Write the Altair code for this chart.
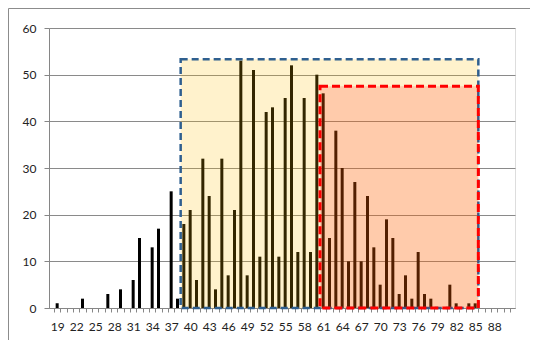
import altair as alt
import pandas as pd

# ---- data ----
ages = list(range(19, 91))
counts = [
    1, 0, 0, 0, 2, 0, 0, 0, 3, 0,      # 19-28
    4, 0, 6, 15, 0, 13, 17, 0, 25, 2,  # 29-38
    18, 21, 6, 32, 24, 4, 32, 7, 21, 53,  # 39-48
    7, 51, 11, 42, 43, 11, 45, 52, 12, 45,  # 49-58
    12, 50, 46, 15, 38, 30, 10, 27, 10, 24,  # 59-68
    13, 5, 19, 15, 3, 7, 2, 12, 3, 2,   # 69-78
    0, 0, 5, 1, 0, 1, 1, 0, 0, 0,       # 79-88
    0, 0,                               # 89-90
]
label_ages = list(range(19, 89, 3))

# highlighted ranges (age bounds, top value)
box_names = ["blue", "red"]
box_start = [38.5, 60.5]
box_end = [85.5, 85.5]
box_top = [53.3, 47.5]

W, H = 466, 280
step = W / len(ages)

df = pd.DataFrame({"age": ages, "count": counts})
boundaries = [a - 0.5 for a in ages] + [ages[-1] + 0.5]

xscale = alt.Scale(domain=[ages[0] - 0.5, ages[-1] + 0.5], nice=False, zero=False)
yscale = alt.Scale(domain=[0, 60], nice=False)

label_list = ",".join(str(v) for v in label_ages)

bars = alt.Chart(df).mark_bar(size=3, color="#000000").encode(
    x=alt.X("age:Q", scale=xscale, title=None,
            axis=alt.Axis(values=boundaries, tickCount=500, grid=False,
                          labelExpr=f"indexof([{label_list}], datum.value + 0.5) >= 0 ? format(datum.value + 0.5, 'd') : ''",
                          labelOffset=step / 2, labelOverlap=False, labelFlush=False,
                          tickSize=4, labelPadding=9, domainColor="#868686",
                          tickColor="#868686", labelFontSize=12, labelFont="Lato",
                          labelColor="#222222")),
    y=alt.Y("count:Q", scale=yscale, title=None,
            axis=alt.Axis(values=[0, 10, 20, 30, 40, 50, 60], grid=True,
                          gridColor="#8a8a8a", tickSize=5, labelPadding=8,
                          domainColor="#868686", tickColor="#868686",
                          labelFontSize=12, labelFont="Lato", labelColor="#222222")),
)

blue_df = pd.DataFrame({"x": [box_start[0]], "x2": [box_end[0]], "y": [0], "y2": [box_top[0]]})
red_df = pd.DataFrame({"x": [box_start[1]], "x2": [box_end[1]], "y": [0], "y2": [box_top[1]]})

blue = alt.Chart(blue_df).mark_rect(
    fill="#FFC000", fillOpacity=0.2, stroke="#2F5F8F", strokeWidth=2.5,
    strokeDash=[7, 4], strokeOpacity=1,
).encode(x=alt.X("x:Q", scale=xscale), x2="x2", y=alt.Y("y:Q", scale=yscale), y2="y2")

red = alt.Chart(red_df).mark_rect(
    fill="#FF0000", fillOpacity=0.16, stroke="#FF0000", strokeWidth=3,
    strokeDash=[8, 4], strokeOpacity=1,
).encode(x=alt.X("x:Q", scale=xscale), x2="x2", y=alt.Y("y:Q", scale=yscale), y2="y2")

one = pd.DataFrame({"k": [0]})
frame_top = alt.Chart(one).mark_rule(color="#8c8c8c", strokeWidth=1).encode(
    x=alt.value(-40.5), x2=alt.value(481), y=alt.value(-19.5))
frame_left = alt.Chart(one).mark_rule(color="#8c8c8c", strokeWidth=1).encode(
    x=alt.value(-40.5), y=alt.value(-19.5), y2=alt.value(312))

chart = alt.layer(frame_top, frame_left, bars, blue, red).properties(
    width=W, height=H,
    autosize=alt.AutoSizeParams(type="none"),
    padding={"left": 41, "top": 20, "right": 15, "bottom": 32},
).configure_view(stroke=None).configure(background="white")

chart.save("out.html", embed_options={"renderer": "svg", "actions": False})
